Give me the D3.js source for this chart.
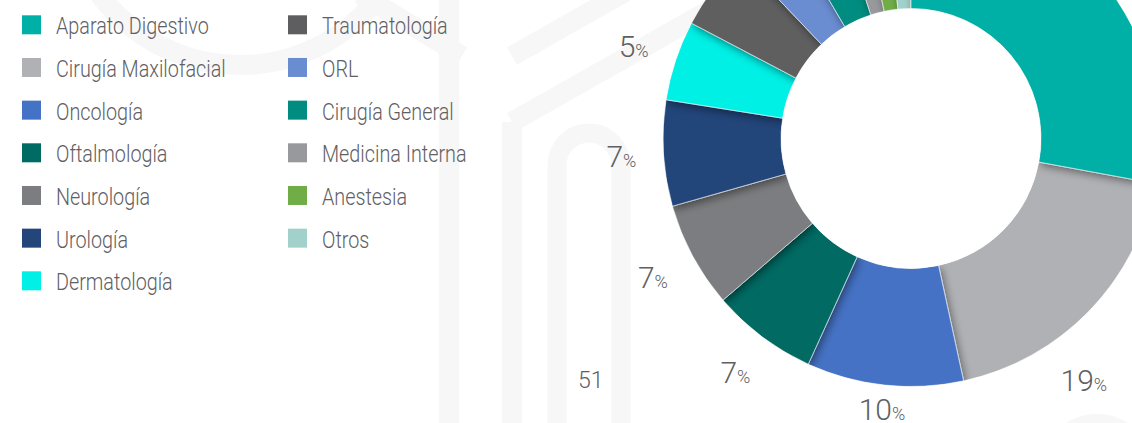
<!DOCTYPE html>
<html>
<head>
<meta charset="utf-8">
<script src="https://cdn.jsdelivr.net/npm/d3@7"></script>
<style>
  html, body { margin: 0; padding: 0; background: #fff; }
  svg { display: block; }
  text { font-family: "Roboto", sans-serif; font-weight: 300; fill: #5f6063; }
</style>
</head>
<body>
<div id="chart"></div>
<script>
// especialidades, en el orden en que aparecen en el donut (sentido horario desde arriba)
const categories = ["Aparato Digestivo", "Cirugía Maxilofacial", "Oncología", "Oftalmología", "Neurología",
                    "Urología", "Dermatología", "Traumatología", "ORL", "Cirugía General",
                    "Medicina Interna", "Anestesia", "Otros"];
const values = [27.9, 18.7, 10.2, 6.9, 6.9, 6.9, 5.2, 5.2, 3.6, 3.5, 1.7, 1.7, 1.6];
const colors = ["#00b0a7", "#b0b1b4", "#4472c4", "#006b63", "#7c7d80", "#23457a", "#00f0e6",
                "#5e5e60", "#6a8cd0", "#008c80", "#98999c", "#70ad47", "#a2d1cb"];
const looseNote = "51";

const W = 1132, H = 423,
      CX = 911, CY = 138.5,
      R_OUT = 248, R_IN = 130,
      LABEL_GAP = 27, LABEL_H = 22;

const svg = d3.select("#chart").append("svg")
    .attr("width", W)
    .attr("height", H);

// marca de agua de fondo (muy tenue)
const wm = svg.append("g").attr("fill", "none").attr("stroke", "#f7f7f7").attr("stroke-width", 20);
wm.append("circle").attr("cx", 240).attr("cy", -110).attr("r", 175);
wm.append("line").attr("x1", 360).attr("y1", -6).attr("x2", 462).attr("y2", 56);
wm.append("line").attr("x1", 449).attr("y1", 0).attr("x2", 449).attr("y2", H);
wm.append("line").attr("x1", 512).attr("y1", 56).attr("x2", 625).attr("y2", -8);
wm.append("line").attr("x1", 512).attr("y1", 122).attr("x2", 720).attr("y2", 4);
wm.append("line").attr("x1", 512).attr("y1", 122).attr("x2", 512).attr("y2", H);
wm.append("path").attr("stroke-width", 19).attr("d", "M557," + H + "V165A32,32 0 0 1 621,165V" + H);
svg.append("circle").attr("cx", 1097).attr("cy", 472).attr("r", 58).attr("fill", "#f7f7f7");

const defs = svg.append("defs");
const shadow = defs.append("filter").attr("id", "shadow")
    .attr("x", "-20%").attr("y", "-20%").attr("width", "140%").attr("height", "140%");
shadow.append("feDropShadow")
    .attr("dx", 2).attr("dy", 3).attr("stdDeviation", 4)
    .attr("flood-color", "#000").attr("flood-opacity", 0.45);

const pie = d3.pie().sort(null).value(d => d.value);
const data = categories.map((c, i) => ({ name: c, value: values[i], color: colors[i] }));
const arcs = pie(data);
const total = d3.sum(values);

const arc = d3.arc().innerRadius(R_IN).outerRadius(R_OUT);
const ring = d3.arc().innerRadius(R_IN).outerRadius(R_OUT).startAngle(0).endAngle(2 * Math.PI);

defs.append("clipPath").attr("id", "ringClip")
    .append("path").attr("transform", `translate(${CX},${CY})`).attr("d", ring());

// el primer sector se dibuja al final para que su sombra caiga sobre el segundo
const drawOrder = arcs.slice(1).concat(arcs.slice(0, 1));

svg.append("g")
    .attr("clip-path", "url(#ringClip)")
  .append("g")
    .attr("transform", `translate(${CX},${CY})`)
  .selectAll("path")
  .data(drawOrder)
  .enter()
  .append("path")
    .attr("d", arc)
    .attr("fill", d => d.data.color)
    .attr("stroke", "#ffffff")
    .attr("stroke-opacity", 0.7)
    .attr("stroke-width", 0.8)
    .attr("filter", "url(#shadow)");

// etiquetas de porcentaje: la caja del texto queda a distancia fija del anillo
const pctText = d => Math.round(d.value / total * 100);
function labelPos(d) {
    const w = String(pctText(d)).length * 16 + 13;
    const at = a => {
        const r = R_OUT + LABEL_GAP + Math.abs(w / 2 * Math.sin(a)) + Math.abs(LABEL_H / 2 * Math.cos(a));
        return [CX + Math.sin(a) * r, CY - Math.cos(a) * r];
    };
    let a = (d.startAngle + d.endAngle) / 2;
    let p = at(a);
    // si se sale por la derecha, se desliza hacia abajo por el contorno
    while (p[0] + w / 2 > W - 25 && a > Math.PI / 2 && a < Math.PI) {
        a += 0.005;
        p = at(a);
    }
    // si se sale por abajo, se acerca al centro
    if (p[1] + LABEL_H / 2 > H - 3) {
        const k = (H - 3 - LABEL_H / 2 - CY) / (p[1] - CY);
        p = [CX + (p[0] - CX) * k, CY + (p[1] - CY) * k];
    }
    return [p[0], p[1] + LABEL_H / 2];
}

const labelData = arcs.map(d => ({ d: d, pos: labelPos(d) }))
    .filter(l => l.pos[1] - LABEL_H > 0 && l.pos[0] < W);

const labels = svg.append("g").selectAll("text")
    .data(labelData)
    .enter()
    .append("text")
    .attr("text-anchor", "middle")
    .attr("x", l => l.pos[0])
    .attr("y", l => l.pos[1]);
labels.append("tspan")
    .attr("font-size", 30)
    .text(l => pctText(l.d));
labels.append("tspan")
    .attr("font-size", 18)
    .text("%");

svg.append("text")
    .attr("x", 578).attr("y", 388)
    .attr("font-size", 23)
    .text(looseNote);

// leyenda en dos columnas
const legend = svg.append("g").selectAll("g")
    .data(data)
    .enter()
    .append("g")
    .attr("transform", (d, i) => `translate(${i < 7 ? 22 : 288},${34.3 + (i % 7) * 42.67})`);
legend.append("rect")
    .attr("x", 0).attr("y", -19)
    .attr("width", 19).attr("height", 19)
    .attr("fill", d => d.color);
legend.append("text")
    .attr("transform", "translate(34,0) scale(0.86,1)")
    .attr("font-size", 23)
    .text(d => d.name);
</script>
</body>
</html>
